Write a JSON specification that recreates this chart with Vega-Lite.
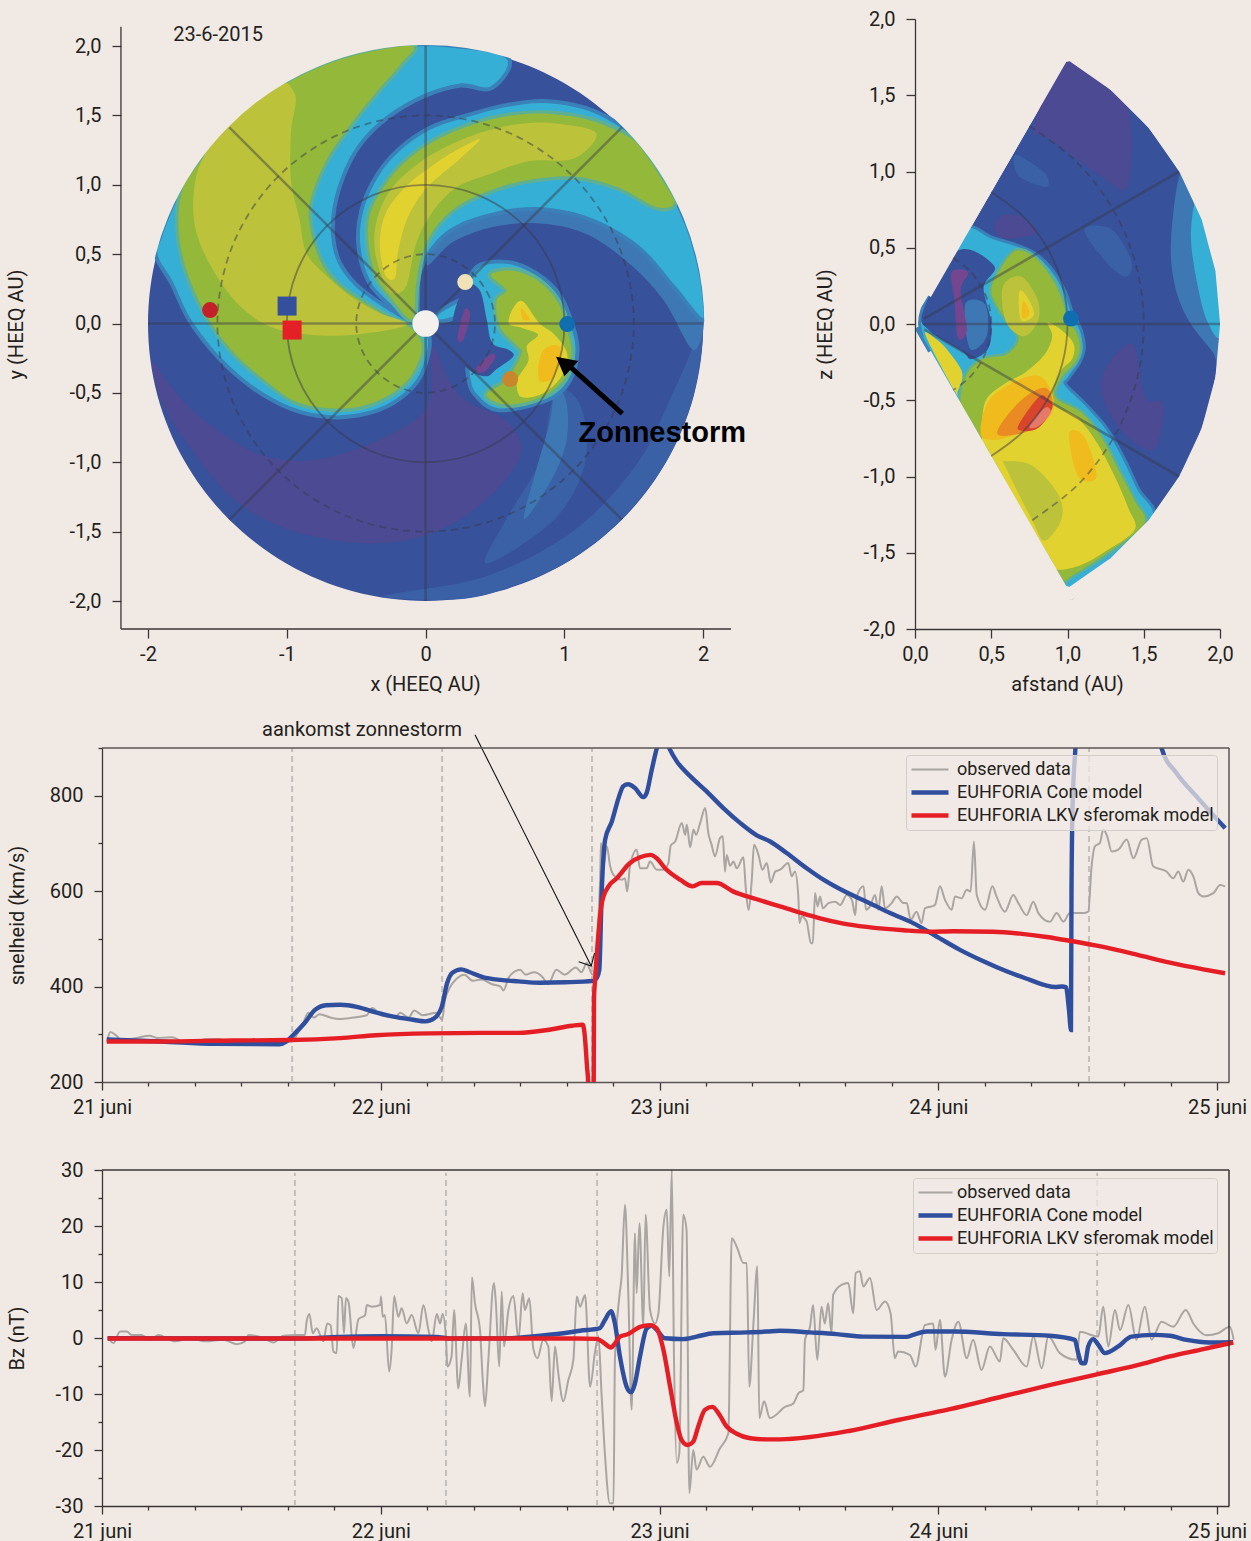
{"$schema":"https://vega.github.io/schema/vega-lite/v6.json","background":"#f1e9e4","padding":{"left":6,"top":5,"right":8,"bottom":2},
"config":{"view":{"stroke":null},"font":"Roboto","axis":{"grid":false,"labelFont":"Roboto","titleFont":"Roboto","labelFontSize":20,"titleFontSize":20,"titleFontWeight":"normal","labelColor":"#231f20","titleColor":"#231f20","domainColor":"#3a3636","tickColor":"#3a3636","domainWidth":1.3,"tickWidth":1.3,"labelOverlap":false,"labelFlush":false},"legend":{"labelFont":"Roboto","labelFontSize":18,"labelColor":"#231f20","labelLimit":400}},
"resolve":{"scale":{"color":"independent","strokeWidth":"independent"}},
"datasets":{
"ringsA":[{"r":0.5,"x":0.5,"y":0},{"r":0.5,"x":0.46,"y":0.19},{"r":0.5,"x":0.35,"y":0.35},{"r":0.5,"x":0.19,"y":0.46},{"r":0.5,"x":0,"y":0.5},{"r":0.5,"x":-0.19,"y":0.46},{"r":0.5,"x":-0.35,"y":0.35},{"r":0.5,"x":-0.46,"y":0.19},{"r":0.5,"x":-0.5,"y":0},{"r":0.5,"x":-0.46,"y":-0.19},{"r":0.5,"x":-0.35,"y":-0.35},{"r":0.5,"x":-0.19,"y":-0.46},{"r":0.5,"x":0,"y":-0.5},{"r":0.5,"x":0.19,"y":-0.46},{"r":0.5,"x":0.35,"y":-0.35},{"r":0.5,"x":0.46,"y":-0.19},
{"r":1,"x":1,"y":0},{"r":1,"x":0.924,"y":0.383},{"r":1,"x":0.707,"y":0.707},{"r":1,"x":0.383,"y":0.924},{"r":1,"x":0,"y":1},{"r":1,"x":-0.383,"y":0.924},{"r":1,"x":-0.707,"y":0.707},{"r":1,"x":-0.924,"y":0.383},{"r":1,"x":-1,"y":0},{"r":1,"x":-0.924,"y":-0.383},{"r":1,"x":-0.707,"y":-0.707},{"r":1,"x":-0.383,"y":-0.924},{"r":1,"x":0,"y":-1},{"r":1,"x":0.383,"y":-0.924},{"r":1,"x":0.707,"y":-0.707},{"r":1,"x":0.924,"y":-0.383},
{"r":1.5,"x":1.5,"y":0},{"r":1.5,"x":1.386,"y":0.574},{"r":1.5,"x":1.061,"y":1.061},{"r":1.5,"x":0.574,"y":1.386},{"r":1.5,"x":0,"y":1.5},{"r":1.5,"x":-0.574,"y":1.386},{"r":1.5,"x":-1.061,"y":1.061},{"r":1.5,"x":-1.386,"y":0.574},{"r":1.5,"x":-1.5,"y":0},{"r":1.5,"x":-1.386,"y":-0.574},{"r":1.5,"x":-1.061,"y":-1.061},{"r":1.5,"x":-0.574,"y":-1.386},{"r":1.5,"x":0,"y":-1.5},{"r":1.5,"x":0.574,"y":-1.386},{"r":1.5,"x":1.061,"y":-1.061},{"r":1.5,"x":1.386,"y":-0.574},
{"r":2.065,"x":2.065,"y":0},{"r":2.065,"x":1.908,"y":0.79},{"r":2.065,"x":1.46,"y":1.46},{"r":2.065,"x":0.79,"y":1.908},{"r":2.065,"x":0,"y":2.065},{"r":2.065,"x":-0.79,"y":1.908},{"r":2.065,"x":-1.46,"y":1.46},{"r":2.065,"x":-1.908,"y":0.79},{"r":2.065,"x":-2.065,"y":0},{"r":2.065,"x":-1.908,"y":-0.79},{"r":2.065,"x":-1.46,"y":-1.46},{"r":2.065,"x":-0.79,"y":-1.908},{"r":2.065,"x":0,"y":-2.065},{"r":2.065,"x":0.79,"y":-1.908},{"r":2.065,"x":1.46,"y":-1.46},{"r":2.065,"x":1.908,"y":-0.79}],
"a":[
{"p":1,"z":0,"x":2,"y":0},{"p":1,"z":0,"x":1.932,"y":0.518},{"p":1,"z":0,"x":1.732,"y":1},{"p":1,"z":0,"x":1.414,"y":1.414},{"p":1,"z":0,"x":1,"y":1.732},{"p":1,"z":0,"x":0.518,"y":1.932},{"p":1,"z":0,"x":0,"y":2},{"p":1,"z":0,"x":-0.518,"y":1.932},{"p":1,"z":0,"x":-1,"y":1.732},{"p":1,"z":0,"x":-1.414,"y":1.414},{"p":1,"z":0,"x":-1.732,"y":1},{"p":1,"z":0,"x":-1.932,"y":0.518},{"p":1,"z":0,"x":-2,"y":0},{"p":1,"z":0,"x":-1.932,"y":-0.518},{"p":1,"z":0,"x":-1.732,"y":-1},{"p":1,"z":0,"x":-1.414,"y":-1.414},{"p":1,"z":0,"x":-1,"y":-1.732},{"p":1,"z":0,"x":-0.518,"y":-1.932},{"p":1,"z":0,"x":0,"y":-2},{"p":1,"z":0,"x":0.518,"y":-1.932},{"p":1,"z":0,"x":1,"y":-1.732},{"p":1,"z":0,"x":1.414,"y":-1.414},{"p":1,"z":0,"x":1.732,"y":-1},{"p":1,"z":0,"x":1.932,"y":-0.518},
{"p":2,"z":1,"x":-1.97,"y":-0.27},{"p":2,"z":1,"x":-1.9,"y":-0.57},{"p":2,"z":1,"x":-1.7,"y":-0.89},{"p":2,"z":1,"x":-1.4,"y":-1.25},{"p":2,"z":1,"x":-1.05,"y":-1.46},{"p":2,"z":1,"x":-0.62,"y":-1.57},{"p":2,"z":1,"x":-0.18,"y":-1.57},{"p":2,"z":1,"x":0.2,"y":-1.44},{"p":2,"z":1,"x":0.52,"y":-1.19},{"p":2,"z":1,"x":0.69,"y":-0.92},{"p":2,"z":1,"x":0.58,"y":-0.7},{"p":2,"z":1,"x":0.31,"y":-0.57},{"p":2,"z":1,"x":0.17,"y":-0.41},{"p":2,"z":1,"x":0.04,"y":-0.16},{"p":2,"z":1,"x":0.01,"y":-0.6},{"p":2,"z":1,"x":-0.34,"y":-0.84},{"p":2,"z":1,"x":-0.78,"y":-0.98},{"p":2,"z":1,"x":-1.18,"y":-0.95},{"p":2,"z":1,"x":-1.59,"y":-0.7},{"p":2,"z":1,"x":-1.83,"y":-0.46},
{"p":3,"z":2,"x":1.8,"y":-0.46},{"p":3,"z":2,"x":1.53,"y":-1},{"p":3,"z":2,"x":1.07,"y":-1.49},{"p":3,"z":2,"x":0.44,"y":-1.82},{"p":3,"z":2,"x":-0.24,"y":-1.95},{"p":3,"z":2,"x":-0.24,"y":-1.98},{"p":3,"z":2,"x":0.2,"y":-1.99},{"p":3,"z":2,"x":0.52,"y":-1.93},{"p":3,"z":2,"x":1,"y":-1.73},{"p":3,"z":2,"x":1.41,"y":-1.41},{"p":3,"z":2,"x":1.73,"y":-1},{"p":3,"z":2,"x":1.93,"y":-0.52},{"p":3,"z":2,"x":1.99,"y":-0.05},
{"p":4,"z":2,"x":0.96,"y":-0.46},{"p":4,"z":2,"x":1.12,"y":-0.6},{"p":4,"z":2,"x":1.15,"y":-1},{"p":4,"z":2,"x":0.93,"y":-1.41},{"p":4,"z":2,"x":0.44,"y":-1.73},{"p":4,"z":2,"x":0.58,"y":-1.41},{"p":4,"z":2,"x":0.82,"y":-1},{"p":4,"z":2,"x":0.9,"y":-0.6},
{"p":5,"z":3,"x":0.96,"y":-0.46},{"p":5,"z":3,"x":1.02,"y":-0.6},{"p":5,"z":3,"x":1.01,"y":-0.87},{"p":5,"z":3,"x":0.9,"y":-1.14},{"p":5,"z":3,"x":0.71,"y":-1.41},{"p":5,"z":3,"x":0.79,"y":-1.08},{"p":5,"z":3,"x":0.89,"y":-0.73},{"p":5,"z":3,"x":0.92,"y":-0.54},
{"p":6,"z":3,"x":0.01,"y":0.42},{"p":6,"z":3,"x":0.2,"y":0.59},{"p":6,"z":3,"x":0.5,"y":0.7},{"p":6,"z":3,"x":0.85,"y":0.72},{"p":6,"z":3,"x":1.17,"y":0.64},{"p":6,"z":3,"x":1.47,"y":0.43},{"p":6,"z":3,"x":1.72,"y":0.16},{"p":6,"z":3,"x":1.93,"y":-0.19},{"p":6,"z":3,"x":2,"y":0.1},{"p":6,"z":3,"x":1.8,"y":0.5},{"p":6,"z":3,"x":1.2,"y":0.9},{"p":6,"z":3,"x":0.5,"y":0.9},{"p":6,"z":3,"x":0.1,"y":0.7},
{"p":10,"z":4,"x":0.01,"y":-0.09},{"p":10,"z":4,"x":0,"y":-0.24},{"p":10,"z":4,"x":-0.07,"y":-0.41},{"p":10,"z":4,"x":-0.24,"y":-0.56},{"p":10,"z":4,"x":-0.45,"y":-0.64},{"p":10,"z":4,"x":-0.7,"y":-0.66},{"p":10,"z":4,"x":-0.97,"y":-0.6},{"p":10,"z":4,"x":-1.24,"y":-0.45},{"p":10,"z":4,"x":-1.48,"y":-0.24},{"p":10,"z":4,"x":-1.69,"y":0.03},{"p":10,"z":4,"x":-1.82,"y":0.3},{"p":10,"z":4,"x":-1.93,"y":0.49},{"p":10,"z":4,"x":-1.9,"y":0.62},{"p":10,"z":4,"x":-1.8,"y":0.87},{"p":10,"z":4,"x":-1.62,"y":1.17},{"p":10,"z":4,"x":-1.41,"y":1.41},{"p":10,"z":4,"x":-1.17,"y":1.62},{"p":10,"z":4,"x":-0.87,"y":1.8},{"p":10,"z":4,"x":-0.52,"y":1.93},{"p":10,"z":4,"x":-0.17,"y":1.99},{"p":10,"z":4,"x":0.17,"y":1.99},{"p":10,"z":4,"x":0.58,"y":1.91},{"p":10,"z":4,"x":0.47,"y":1.71},{"p":10,"z":4,"x":0.25,"y":1.73},{"p":10,"z":4,"x":-0.02,"y":1.65},{"p":10,"z":4,"x":-0.29,"y":1.49},{"p":10,"z":4,"x":-0.48,"y":1.3},{"p":10,"z":4,"x":-0.6,"y":1.08},{"p":10,"z":4,"x":-0.67,"y":0.84},{"p":10,"z":4,"x":-0.68,"y":0.62},{"p":10,"z":4,"x":-0.63,"y":0.43},{"p":10,"z":4,"x":-0.51,"y":0.27},{"p":10,"z":4,"x":-0.34,"y":0.14},{"p":10,"z":4,"x":-0.18,"y":0.04},{"p":10,"z":4,"x":-0.09,"y":-0.01},
{"p":11,"z":4,"x":-0.09,"y":0.01},{"p":11,"z":4,"x":-0.26,"y":0.15},{"p":11,"z":4,"x":-0.4,"y":0.31},{"p":11,"z":4,"x":-0.47,"y":0.56},{"p":11,"z":4,"x":-0.45,"y":0.81},{"p":11,"z":4,"x":-0.34,"y":1.06},{"p":11,"z":4,"x":-0.18,"y":1.25},{"p":11,"z":4,"x":0.04,"y":1.4},{"p":11,"z":4,"x":0.31,"y":1.49},{"p":11,"z":4,"x":0.58,"y":1.56},{"p":11,"z":4,"x":0.85,"y":1.59},{"p":11,"z":4,"x":1.15,"y":1.54},{"p":11,"z":4,"x":1.41,"y":1.41},{"p":11,"z":4,"x":1.53,"y":1.29},{"p":11,"z":4,"x":1.64,"y":1.15},{"p":11,"z":4,"x":1.73,"y":1},{"p":11,"z":4,"x":1.88,"y":0.68},{"p":11,"z":4,"x":1.97,"y":0.35},{"p":11,"z":4,"x":2,"y":0.1},{"p":11,"z":4,"x":1.98,"y":0.05},{"p":11,"z":4,"x":1.8,"y":0.27},{"p":11,"z":4,"x":1.53,"y":0.57},{"p":11,"z":4,"x":1.17,"y":0.77},{"p":11,"z":4,"x":0.79,"y":0.84},{"p":11,"z":4,"x":0.44,"y":0.79},{"p":11,"z":4,"x":0.17,"y":0.68},{"p":11,"z":4,"x":0.01,"y":0.51},{"p":11,"z":4,"x":-0.06,"y":0.35},{"p":11,"z":4,"x":-0.07,"y":0.16},
{"p":12,"z":4,"x":0.36,"y":0.38},{"p":12,"z":4,"x":0.58,"y":0.43},{"p":12,"z":4,"x":0.79,"y":0.35},{"p":12,"z":4,"x":0.96,"y":0.19},{"p":12,"z":4,"x":1.05,"y":-0.03},{"p":12,"z":4,"x":1.08,"y":-0.19},{"p":12,"z":4,"x":1.04,"y":-0.38},{"p":12,"z":4,"x":0.93,"y":-0.51},{"p":12,"z":4,"x":0.74,"y":-0.58},{"p":12,"z":4,"x":0.52,"y":-0.61},{"p":12,"z":4,"x":0.39,"y":-0.53},{"p":12,"z":4,"x":0.32,"y":-0.38},{"p":12,"z":4,"x":0.3,"y":0.1},
{"p":13,"z":4,"x":0.1,"y":0.07},{"p":13,"z":4,"x":0.29,"y":0.17},{"p":13,"z":4,"x":0.29,"y":0.09},{"p":13,"z":4,"x":0.12,"y":0.03},
{"p":20,"z":6,"x":-0.11,"y":-0.03},{"p":20,"z":6,"x":-0.03,"y":-0.14},{"p":20,"z":6,"x":-0.05,"y":-0.27},{"p":20,"z":6,"x":-0.14,"y":-0.42},{"p":20,"z":6,"x":-0.29,"y":-0.53},{"p":20,"z":6,"x":-0.48,"y":-0.6},{"p":20,"z":6,"x":-0.7,"y":-0.61},{"p":20,"z":6,"x":-0.94,"y":-0.56},{"p":20,"z":6,"x":-1.18,"y":-0.39},{"p":20,"z":6,"x":-1.4,"y":-0.19},{"p":20,"z":6,"x":-1.59,"y":0.08},{"p":20,"z":6,"x":-1.73,"y":0.41},{"p":20,"z":6,"x":-1.78,"y":0.7},{"p":20,"z":6,"x":-1.75,"y":0.97},{"p":20,"z":6,"x":-1.62,"y":1.17},{"p":20,"z":6,"x":-1.41,"y":1.41},{"p":20,"z":6,"x":-1.17,"y":1.62},{"p":20,"z":6,"x":-0.87,"y":1.8},{"p":20,"z":6,"x":-0.52,"y":1.93},{"p":20,"z":6,"x":-0.1,"y":2},{"p":20,"z":6,"x":-0.18,"y":1.87},{"p":20,"z":6,"x":-0.37,"y":1.65},{"p":20,"z":6,"x":-0.56,"y":1.41},{"p":20,"z":6,"x":-0.72,"y":1.17},{"p":20,"z":6,"x":-0.83,"y":0.89},{"p":20,"z":6,"x":-0.83,"y":0.68},{"p":20,"z":6,"x":-0.75,"y":0.43},{"p":20,"z":6,"x":-0.62,"y":0.27},{"p":20,"z":6,"x":-0.43,"y":0.14},{"p":20,"z":6,"x":-0.24,"y":0.03},
{"p":21,"z":7,"x":-0.14,"y":-0.01},{"p":21,"z":7,"x":-0.51,"y":-0.08},{"p":21,"z":7,"x":-0.83,"y":-0.08},{"p":21,"z":7,"x":-1.1,"y":-0.03},{"p":21,"z":7,"x":-1.32,"y":0.11},{"p":21,"z":7,"x":-1.51,"y":0.35},{"p":21,"z":7,"x":-1.65,"y":0.65},{"p":21,"z":7,"x":-1.67,"y":0.95},{"p":21,"z":7,"x":-1.59,"y":1.22},{"p":21,"z":7,"x":-1.35,"y":1.52},{"p":21,"z":7,"x":-1.1,"y":1.76},{"p":21,"z":7,"x":-0.94,"y":1.65},{"p":21,"z":7,"x":-0.97,"y":1.38},{"p":21,"z":7,"x":-0.97,"y":1.03},{"p":21,"z":7,"x":-0.91,"y":0.76},{"p":21,"z":7,"x":-0.86,"y":0.51},{"p":21,"z":7,"x":-0.72,"y":0.35},{"p":21,"z":7,"x":-0.53,"y":0.19},{"p":21,"z":7,"x":-0.34,"y":0.08},
{"p":22,"z":6,"x":-0.1,"y":0.03},{"p":22,"z":6,"x":-0.26,"y":0.2},{"p":22,"z":6,"x":-0.36,"y":0.35},{"p":22,"z":6,"x":-0.41,"y":0.57},{"p":22,"z":6,"x":-0.4,"y":0.79},{"p":22,"z":6,"x":-0.29,"y":1},{"p":22,"z":6,"x":-0.13,"y":1.18},{"p":22,"z":6,"x":0.09,"y":1.33},{"p":22,"z":6,"x":0.36,"y":1.44},{"p":22,"z":6,"x":0.63,"y":1.5},{"p":22,"z":6,"x":0.9,"y":1.51},{"p":22,"z":6,"x":1.2,"y":1.46},{"p":22,"z":6,"x":1.47,"y":1.34},{"p":22,"z":6,"x":1.59,"y":1.21},{"p":22,"z":6,"x":1.7,"y":1.04},{"p":22,"z":6,"x":1.79,"y":0.87},{"p":22,"z":6,"x":1.66,"y":0.84},{"p":22,"z":6,"x":1.39,"y":0.98},{"p":22,"z":6,"x":1.07,"y":1.06},{"p":22,"z":6,"x":0.71,"y":1.03},{"p":22,"z":6,"x":0.44,"y":0.95},{"p":22,"z":6,"x":0.22,"y":0.84},{"p":22,"z":6,"x":0.06,"y":0.68},{"p":22,"z":6,"x":-0.03,"y":0.49},{"p":22,"z":6,"x":-0.07,"y":0.27},
{"p":23,"z":7,"x":-0.24,"y":0.22},{"p":23,"z":7,"x":-0.32,"y":0.35},{"p":23,"z":7,"x":-0.37,"y":0.57},{"p":23,"z":7,"x":-0.34,"y":0.79},{"p":23,"z":7,"x":-0.24,"y":0.98},{"p":23,"z":7,"x":-0.07,"y":1.14},{"p":23,"z":7,"x":0.14,"y":1.27},{"p":23,"z":7,"x":0.41,"y":1.38},{"p":23,"z":7,"x":0.69,"y":1.44},{"p":23,"z":7,"x":0.96,"y":1.44},{"p":23,"z":7,"x":1.23,"y":1.37},{"p":23,"z":7,"x":1.07,"y":1.19},{"p":23,"z":7,"x":0.74,"y":1.17},{"p":23,"z":7,"x":0.47,"y":1.08},{"p":23,"z":7,"x":0.22,"y":0.98},{"p":23,"z":7,"x":0.04,"y":0.79},{"p":23,"z":7,"x":-0.07,"y":0.57},{"p":23,"z":7,"x":-0.14,"y":0.27},
{"p":24,"z":8,"x":-0.29,"y":0.35},{"p":24,"z":8,"x":-0.33,"y":0.57},{"p":24,"z":8,"x":-0.29,"y":0.79},{"p":24,"z":8,"x":-0.15,"y":0.98},{"p":24,"z":8,"x":0.01,"y":1.11},{"p":24,"z":8,"x":0.17,"y":1.22},{"p":24,"z":8,"x":0.39,"y":1.33},{"p":24,"z":8,"x":0.25,"y":1.19},{"p":24,"z":8,"x":0.01,"y":0.98},{"p":24,"z":8,"x":-0.13,"y":0.76},{"p":24,"z":8,"x":-0.2,"y":0.51},{"p":24,"z":8,"x":-0.22,"y":0.33},
{"p":30,"z":6,"x":0.47,"y":0.35},{"p":30,"z":6,"x":0.63,"y":0.38},{"p":30,"z":6,"x":0.82,"y":0.3},{"p":30,"z":6,"x":0.96,"y":0.14},{"p":30,"z":6,"x":1.02,"y":-0.05},{"p":30,"z":6,"x":1.05,"y":-0.22},{"p":30,"z":6,"x":1.01,"y":-0.38},{"p":30,"z":6,"x":0.89,"y":-0.5},{"p":30,"z":6,"x":0.71,"y":-0.57},{"p":30,"z":6,"x":0.55,"y":-0.58},{"p":30,"z":6,"x":0.44,"y":-0.51},{"p":30,"z":6,"x":0.58,"y":-0.41},{"p":30,"z":6,"x":0.69,"y":-0.22},{"p":30,"z":6,"x":0.66,"y":-0.16},{"p":30,"z":6,"x":0.54,"y":-0.03},{"p":30,"z":6,"x":0.51,"y":0.16},{"p":30,"z":6,"x":0.58,"y":0.24},
{"p":31,"z":8,"x":0.63,"y":0.11},{"p":31,"z":8,"x":0.7,"y":0.16},{"p":31,"z":8,"x":0.82,"y":0},{"p":31,"z":8,"x":0.93,"y":-0.08},{"p":31,"z":8,"x":1.02,"y":-0.22},{"p":31,"z":8,"x":0.98,"y":-0.38},{"p":31,"z":8,"x":0.85,"y":-0.5},{"p":31,"z":8,"x":0.69,"y":-0.53},{"p":31,"z":8,"x":0.66,"y":-0.41},{"p":31,"z":8,"x":0.74,"y":-0.27},{"p":31,"z":8,"x":0.73,"y":-0.16},{"p":31,"z":8,"x":0.81,"y":-0.08},{"p":31,"z":8,"x":0.69,"y":-0.03},{"p":31,"z":8,"x":0.6,"y":0},
{"p":32,"z":9,"x":0.85,"y":-0.19},{"p":32,"z":9,"x":0.96,"y":-0.16},{"p":32,"z":9,"x":0.97,"y":-0.27},{"p":32,"z":9,"x":0.92,"y":-0.39},{"p":32,"z":9,"x":0.83,"y":-0.42},{"p":32,"z":9,"x":0.81,"y":-0.33},
{"p":33,"z":9,"x":0.69,"y":0.11},{"p":33,"z":9,"x":0.75,"y":0.03},{"p":33,"z":9,"x":0.7,"y":0.03},
{"p":40,"z":0,"x":0.29,"y":0.27},{"p":40,"z":0,"x":0.39,"y":0.24},{"p":40,"z":0,"x":0.44,"y":0.03},{"p":40,"z":0,"x":0.48,"y":-0.14},{"p":40,"z":0,"x":0.6,"y":-0.19},{"p":40,"z":0,"x":0.63,"y":-0.24},{"p":40,"z":0,"x":0.51,"y":-0.33},{"p":40,"z":0,"x":0.44,"y":-0.38},{"p":40,"z":0,"x":0.32,"y":-0.34},{"p":40,"z":0,"x":0.2,"y":-0.2},{"p":40,"z":0,"x":0.2,"y":0.05},
{"p":41,"z":13,"x":0.28,"y":0.1},{"p":41,"z":13,"x":0.32,"y":0.06},{"p":41,"z":13,"x":0.27,"y":-0.12},{"p":41,"z":13,"x":0.23,"y":-0.1},
{"p":42,"z":13,"x":0.36,"y":-0.33},{"p":42,"z":13,"x":0.47,"y":-0.22},{"p":42,"z":13,"x":0.5,"y":-0.25},{"p":42,"z":13,"x":0.42,"y":-0.35}],
"b":[
{"p":1,"z":0,"x":0.055,"y":0.09},{"p":1,"z":0,"x":0.1,"y":0.17},{"p":1,"z":0,"x":0.95,"y":1.645},{"p":1,"z":0,"x":1,"y":1.732},{"p":1,"z":0,"x":1.089,"y":1.677},{"p":1,"z":0,"x":1.286,"y":1.532},{"p":1,"z":0,"x":1.532,"y":1.286},{"p":1,"z":0,"x":1.732,"y":1},{"p":1,"z":0,"x":1.879,"y":0.684},{"p":1,"z":0,"x":1.97,"y":0.347},{"p":1,"z":0,"x":2,"y":0},{"p":1,"z":0,"x":1.97,"y":-0.347},{"p":1,"z":0,"x":1.879,"y":-0.684},{"p":1,"z":0,"x":1.732,"y":-1},{"p":1,"z":0,"x":1.532,"y":-1.286},{"p":1,"z":0,"x":1.286,"y":-1.532},{"p":1,"z":0,"x":1.089,"y":-1.677},{"p":1,"z":0,"x":1,"y":-1.732},{"p":1,"z":0,"x":0.95,"y":-1.645},{"p":1,"z":0,"x":0.1,"y":-0.17},{"p":1,"z":0,"x":0.055,"y":-0.09},{"p":1,"z":0,"x":0.04,"y":0},
{"p":2,"z":1,"x":1,"y":1.72},{"p":2,"z":1,"x":1.286,"y":1.53},{"p":2,"z":1,"x":1.4,"y":1.42},{"p":2,"z":1,"x":1.42,"y":1.11},{"p":2,"z":1,"x":1.38,"y":0.88},{"p":2,"z":1,"x":1.22,"y":0.97},{"p":2,"z":1,"x":0.9,"y":1.2},{"p":2,"z":1,"x":0.78,"y":1.3},
{"p":3,"z":1,"x":0.57,"y":0.71},{"p":3,"z":1,"x":0.7,"y":0.7},{"p":3,"z":1,"x":0.8,"y":0.6},{"p":3,"z":1,"x":0.6,"y":0.56},{"p":3,"z":1,"x":0.52,"y":0.62},
{"p":4,"z":1,"x":1.22,"y":-0.37},{"p":4,"z":1,"x":1.42,"y":-0.13},{"p":4,"z":1,"x":1.51,"y":-0.48},{"p":4,"z":1,"x":1.62,"y":-0.51},{"p":4,"z":1,"x":1.62,"y":-0.67},{"p":4,"z":1,"x":1.55,"y":-0.83},{"p":4,"z":1,"x":1.33,"y":-0.67},
{"p":5,"z":2,"x":0.66,"y":1.11},{"p":5,"z":2,"x":0.85,"y":0.99},{"p":5,"z":2,"x":0.86,"y":0.9},{"p":5,"z":2,"x":0.68,"y":0.97},
{"p":6,"z":2,"x":1.11,"y":0.62},{"p":6,"z":2,"x":1.29,"y":0.62},{"p":6,"z":2,"x":1.42,"y":0.41},{"p":6,"z":2,"x":1.38,"y":0.31},{"p":6,"z":2,"x":1.25,"y":0.41},
{"p":7,"z":3,"x":1.75,"y":1},{"p":7,"z":3,"x":1.68,"y":0.57},{"p":7,"z":3,"x":1.7,"y":0.27},{"p":7,"z":3,"x":1.79,"y":0.03},{"p":7,"z":3,"x":1.95,"y":-0.18},{"p":7,"z":3,"x":1.99,"y":-0.25},{"p":7,"z":3,"x":1.97,"y":0.35},{"p":7,"z":3,"x":1.88,"y":0.68},
{"p":8,"z":4,"x":1.84,"y":0.8},{"p":8,"z":4,"x":1.81,"y":0.55},{"p":8,"z":4,"x":1.86,"y":0.22},{"p":8,"z":4,"x":1.92,"y":0.01},{"p":8,"z":4,"x":2,"y":-0.08},{"p":8,"z":4,"x":1.98,"y":0.3},{"p":8,"z":4,"x":1.9,"y":0.62},
{"p":10,"z":4,"x":0.37,"y":0.63},{"p":10,"z":4,"x":0.5,"y":0.56},{"p":10,"z":4,"x":0.66,"y":0.51},{"p":10,"z":4,"x":0.79,"y":0.45},{"p":10,"z":4,"x":0.9,"y":0.34},{"p":10,"z":4,"x":0.98,"y":0.2},{"p":10,"z":4,"x":1.02,"y":0.08},{"p":10,"z":4,"x":1.08,"y":-0.04},{"p":10,"z":4,"x":1.1,"y":-0.16},{"p":10,"z":4,"x":1.07,"y":-0.25},{"p":10,"z":4,"x":1,"y":-0.35},{"p":10,"z":4,"x":0.98,"y":-0.4},{"p":10,"z":4,"x":1.11,"y":-0.53},{"p":10,"z":4,"x":1.25,"y":-0.69},{"p":10,"z":4,"x":1.36,"y":-0.88},{"p":10,"z":4,"x":1.46,"y":-1.09},{"p":10,"z":4,"x":1.56,"y":-1.25},{"p":10,"z":4,"x":1.4,"y":-1.43},{"p":10,"z":4,"x":1.2,"y":-1.6},{"p":10,"z":4,"x":1.09,"y":-1.677},{"p":10,"z":4,"x":1,"y":-1.732},{"p":10,"z":4,"x":0.95,"y":-1.645},{"p":10,"z":4,"x":0.1,"y":-0.17},{"p":10,"z":4,"x":0.06,"y":-0.09},{"p":10,"z":4,"x":0.04,"y":0},{"p":10,"z":4,"x":0.055,"y":0.09},{"p":10,"z":4,"x":0.1,"y":0.17},{"p":10,"z":4,"x":0.33,"y":0.57},
{"p":20,"z":6,"x":0.56,"y":0.36},{"p":20,"z":6,"x":0.66,"y":0.48},{"p":20,"z":6,"x":0.78,"y":0.44},{"p":20,"z":6,"x":0.89,"y":0.31},{"p":20,"z":6,"x":0.96,"y":0.17},{"p":20,"z":6,"x":1,"y":0.03},{"p":20,"z":6,"x":1.06,"y":-0.06},{"p":20,"z":6,"x":1.08,"y":-0.16},{"p":20,"z":6,"x":1.05,"y":-0.25},{"p":20,"z":6,"x":0.96,"y":-0.35},{"p":20,"z":6,"x":0.92,"y":-0.48},{"p":20,"z":6,"x":1.09,"y":-0.58},{"p":20,"z":6,"x":1.22,"y":-0.74},{"p":20,"z":6,"x":1.33,"y":-0.95},{"p":20,"z":6,"x":1.44,"y":-1.16},{"p":20,"z":6,"x":1.5,"y":-1.31},{"p":20,"z":6,"x":1.25,"y":-1.51},{"p":20,"z":6,"x":1.03,"y":-1.65},{"p":20,"z":6,"x":0.98,"y":-1.68},{"p":20,"z":6,"x":0.92,"y":-1.59},{"p":20,"z":6,"x":0.36,"y":-0.62},{"p":20,"z":6,"x":0.3,"y":-0.5},{"p":20,"z":6,"x":0.34,"y":-0.33},{"p":20,"z":6,"x":0.45,"y":-0.23},{"p":20,"z":6,"x":0.6,"y":-0.2},{"p":20,"z":6,"x":0.68,"y":-0.1},{"p":20,"z":6,"x":0.62,"y":0},{"p":20,"z":6,"x":0.55,"y":0.1},{"p":20,"z":6,"x":0.5,"y":0.22},
{"p":30,"z":0,"x":0.28,"y":0.48},{"p":30,"z":0,"x":0.52,"y":0.38},{"p":30,"z":0,"x":0.45,"y":0.24},{"p":30,"z":0,"x":0.5,"y":0.01},{"p":30,"z":0,"x":0.48,"y":-0.16},{"p":30,"z":0,"x":0.37,"y":-0.23},{"p":30,"z":0,"x":0.31,"y":-0.18},{"p":30,"z":0,"x":0.09,"y":-0.04},{"p":30,"z":0,"x":0.055,"y":0.09},
{"p":31,"z":3,"x":0.33,"y":0.13},{"p":31,"z":3,"x":0.46,"y":0.13},{"p":31,"z":3,"x":0.47,"y":-0.08},{"p":31,"z":3,"x":0.36,"y":-0.16},
{"p":32,"z":13,"x":0.24,"y":0.34},{"p":32,"z":13,"x":0.35,"y":0.34},{"p":32,"z":13,"x":0.3,"y":0.22},{"p":32,"z":13,"x":0.34,"y":-0.04},{"p":32,"z":13,"x":0.28,"y":-0.09},{"p":32,"z":13,"x":0.26,"y":0.15},
{"p":39,"z":8,"x":0.07,"y":-0.075},{"p":39,"z":8,"x":0.14,"y":-0.1},{"p":39,"z":8,"x":0.22,"y":-0.18},{"p":39,"z":8,"x":0.31,"y":-0.32},{"p":39,"z":8,"x":0.28,"y":-0.44},{"p":39,"z":8,"x":0.26,"y":-0.44},
{"p":40,"z":8,"x":0.46,"y":-0.51},{"p":40,"z":8,"x":0.59,"y":-0.39},{"p":40,"z":8,"x":0.72,"y":-0.32},{"p":40,"z":8,"x":0.85,"y":-0.2},{"p":40,"z":8,"x":0.9,"y":-0.08},{"p":40,"z":8,"x":0.87,"y":0.01},{"p":40,"z":8,"x":0.96,"y":-0.04},{"p":40,"z":8,"x":1.04,"y":-0.13},{"p":40,"z":8,"x":1.03,"y":-0.23},{"p":40,"z":8,"x":0.95,"y":-0.32},{"p":40,"z":8,"x":0.9,"y":-0.51},{"p":40,"z":8,"x":1.07,"y":-0.62},{"p":40,"z":8,"x":1.2,"y":-0.79},{"p":40,"z":8,"x":1.31,"y":-1},{"p":40,"z":8,"x":1.4,"y":-1.21},{"p":40,"z":8,"x":1.44,"y":-1.35},{"p":40,"z":8,"x":1.25,"y":-1.49},{"p":40,"z":8,"x":1.09,"y":-1.58},{"p":40,"z":8,"x":0.93,"y":-1.61},{"p":40,"z":8,"x":0.89,"y":-1.54},{"p":40,"z":8,"x":0.72,"y":-1.25},{"p":40,"z":8,"x":0.47,"y":-0.81},{"p":40,"z":8,"x":0.44,"y":-0.76},
{"p":41,"z":7,"x":0.59,"y":-0.9},{"p":41,"z":7,"x":0.77,"y":-0.93},{"p":41,"z":7,"x":0.94,"y":-1.12},{"p":41,"z":7,"x":0.96,"y":-1.28},{"p":41,"z":7,"x":0.85,"y":-1.42},{"p":41,"z":7,"x":0.77,"y":-1.29},{"p":41,"z":7,"x":0.59,"y":-0.93},
{"p":42,"z":7,"x":0.59,"y":0.27},{"p":42,"z":7,"x":0.7,"y":0.31},{"p":42,"z":7,"x":0.8,"y":0.17},{"p":42,"z":7,"x":0.81,"y":0.03},{"p":42,"z":7,"x":0.72,"y":-0.08},{"p":42,"z":7,"x":0.61,"y":-0.01},{"p":42,"z":7,"x":0.57,"y":0.15},
{"p":43,"z":8,"x":0.69,"y":0.22},{"p":43,"z":8,"x":0.74,"y":0.17},{"p":43,"z":8,"x":0.78,"y":0.06},{"p":43,"z":8,"x":0.7,"y":0.02},{"p":43,"z":8,"x":0.68,"y":0.13},
{"p":44,"z":9,"x":0.71,"y":0.15},{"p":44,"z":9,"x":0.75,"y":0.08},{"p":44,"z":9,"x":0.73,"y":0.04},{"p":44,"z":9,"x":0.7,"y":0.05},
{"p":45,"z":9,"x":1.01,"y":-0.72},{"p":45,"z":9,"x":1.11,"y":-0.74},{"p":45,"z":9,"x":1.19,"y":-1},{"p":45,"z":9,"x":1.07,"y":-1},
{"p":46,"z":9,"x":0.48,"y":-0.51},{"p":46,"z":9,"x":0.63,"y":-0.39},{"p":46,"z":9,"x":0.81,"y":-0.34},{"p":46,"z":9,"x":0.9,"y":-0.46},{"p":46,"z":9,"x":0.9,"y":-0.58},{"p":46,"z":9,"x":0.81,"y":-0.67},{"p":46,"z":9,"x":0.68,"y":-0.72},{"p":46,"z":9,"x":0.52,"y":-0.76},{"p":46,"z":9,"x":0.43,"y":-0.72},
{"p":47,"z":10,"x":0.59,"y":-0.62},{"p":47,"z":10,"x":0.72,"y":-0.48},{"p":47,"z":10,"x":0.86,"y":-0.42},{"p":47,"z":10,"x":0.9,"y":-0.55},{"p":47,"z":10,"x":0.79,"y":-0.68},{"p":47,"z":10,"x":0.63,"y":-0.73},{"p":47,"z":10,"x":0.54,"y":-0.72},
{"p":48,"z":11,"x":0.68,"y":-0.66},{"p":48,"z":11,"x":0.81,"y":-0.48},{"p":48,"z":11,"x":0.87,"y":-0.49},{"p":48,"z":11,"x":0.9,"y":-0.55},{"p":48,"z":11,"x":0.81,"y":-0.68},{"p":48,"z":11,"x":0.7,"y":-0.7},
{"p":49,"z":12,"x":0.75,"y":-0.67},{"p":49,"z":12,"x":0.85,"y":-0.55},{"p":49,"z":12,"x":0.89,"y":-0.58},{"p":49,"z":12,"x":0.81,"y":-0.67}],
"c":[
{"s":"o","d":21.02,"v":290},{"s":"o","d":21.03,"v":305},{"s":"o","d":21.05,"v":298},{"s":"o","d":21.07,"v":288},{"s":"o","d":21.1,"v":290},{"s":"o","d":21.13,"v":293},{"s":"o","d":21.17,"v":297},{"s":"o","d":21.2,"v":292},{"s":"o","d":21.25,"v":294},{"s":"o","d":21.3,"v":283},{"s":"o","d":21.33,"v":285},{"s":"o","d":21.38,"v":290},{"s":"o","d":21.42,"v":290},{"s":"o","d":21.46,"v":284},{"s":"o","d":21.5,"v":280},{"s":"o","d":21.6,"v":283},{"s":"o","d":21.68,"v":285},{"s":"o","d":21.7,"v":300},{"s":"o","d":21.72,"v":320},{"s":"o","d":21.74,"v":345},{"s":"o","d":21.76,"v":335},{"s":"o","d":21.78,"v":342},{"s":"o","d":21.82,"v":335},{"s":"o","d":21.85,"v":332},{"s":"o","d":21.9,"v":335},{"s":"o","d":21.95,"v":340},{"s":"o","d":21.97,"v":355},{"s":"o","d":22,"v":340},{"s":"o","d":22.05,"v":335},{"s":"o","d":22.07,"v":345},{"s":"o","d":22.1,"v":335},{"s":"o","d":22.12,"v":350},{"s":"o","d":22.15,"v":340},{"s":"o","d":22.2,"v":345},{"s":"o","d":22.22,"v":330},{"s":"o","d":22.23,"v":370},{"s":"o","d":22.25,"v":400},{"s":"o","d":22.27,"v":415},{"s":"o","d":22.3,"v":425},{"s":"o","d":22.33,"v":412},{"s":"o","d":22.36,"v":415},{"s":"o","d":22.4,"v":405},{"s":"o","d":22.43,"v":400},{"s":"o","d":22.44,"v":392},{"s":"o","d":22.46,"v":420},{"s":"o","d":22.5,"v":435},{"s":"o","d":22.52,"v":425},{"s":"o","d":22.55,"v":430},{"s":"o","d":22.58,"v":420},{"s":"o","d":22.6,"v":405},{"s":"o","d":22.63,"v":435},{"s":"o","d":22.66,"v":425},{"s":"o","d":22.7,"v":440},{"s":"o","d":22.72,"v":430},{"s":"o","d":22.74,"v":450},{"s":"o","d":22.75,"v":435},{"s":"o","d":22.76,"v":425},{"s":"o","d":22.787,"v":624},{"s":"o","d":22.79,"v":701},{"s":"o","d":22.799,"v":652},{"s":"o","d":22.811,"v":694},{"s":"o","d":22.823,"v":652},{"s":"o","d":22.835,"v":634},{"s":"o","d":22.865,"v":624},{"s":"o","d":22.876,"v":627},{"s":"o","d":22.884,"v":599},{"s":"o","d":22.894,"v":652},{"s":"o","d":22.918,"v":687},{"s":"o","d":22.93,"v":648},{"s":"o","d":22.954,"v":648},{"s":"o","d":22.966,"v":662},{"s":"o","d":22.99,"v":645},{"s":"o","d":23.014,"v":645},{"s":"o","d":23.032,"v":659},{"s":"o","d":23.04,"v":695},{"s":"o","d":23.056,"v":704},{"s":"o","d":23.08,"v":743},{"s":"o","d":23.092,"v":718},{"s":"o","d":23.098,"v":739},{"s":"o","d":23.11,"v":692},{"s":"o","d":23.122,"v":729},{"s":"o","d":23.131,"v":718},{"s":"o","d":23.146,"v":743},{"s":"o","d":23.164,"v":774},{"s":"o","d":23.175,"v":722},{"s":"o","d":23.187,"v":697},{"s":"o","d":23.199,"v":673},{"s":"o","d":23.217,"v":711},{"s":"o","d":23.227,"v":715},{"s":"o","d":23.235,"v":641},{"s":"o","d":23.241,"v":676},{"s":"o","d":23.253,"v":653},{"s":"o","d":23.265,"v":662},{"s":"o","d":23.277,"v":648},{"s":"o","d":23.301,"v":671},{"s":"o","d":23.309,"v":610},{"s":"o","d":23.319,"v":561},{"s":"o","d":23.331,"v":624},{"s":"o","d":23.339,"v":697},{"s":"o","d":23.355,"v":676},{"s":"o","d":23.369,"v":645},{"s":"o","d":23.385,"v":659},{"s":"o","d":23.399,"v":618},{"s":"o","d":23.415,"v":641},{"s":"o","d":23.433,"v":645},{"s":"o","d":23.462,"v":659},{"s":"o","d":23.474,"v":631},{"s":"o","d":23.486,"v":641},{"s":"o","d":23.498,"v":589},{"s":"o","d":23.502,"v":533},{"s":"o","d":23.51,"v":547},{"s":"o","d":23.528,"v":536},{"s":"o","d":23.543,"v":491},{"s":"o","d":23.55,"v":491},{"s":"o","d":23.558,"v":596},{"s":"o","d":23.567,"v":568},{"s":"o","d":23.576,"v":589},{"s":"o","d":23.586,"v":564},{"s":"o","d":23.606,"v":575},{"s":"o","d":23.63,"v":578},{"s":"o","d":23.648,"v":571},{"s":"o","d":23.672,"v":592},{"s":"o","d":23.69,"v":582},{"s":"o","d":23.702,"v":550},{"s":"o","d":23.708,"v":589},{"s":"o","d":23.732,"v":610},{"s":"o","d":23.741,"v":561},{"s":"o","d":23.755,"v":568},{"s":"o","d":23.773,"v":592},{"s":"o","d":23.785,"v":561},{"s":"o","d":23.797,"v":610},{"s":"o","d":23.809,"v":564},{"s":"o","d":23.833,"v":575},{"s":"o","d":23.851,"v":589},{"s":"o","d":23.875,"v":575},{"s":"o","d":23.887,"v":575},{"s":"o","d":23.901,"v":540},{"s":"o","d":23.922,"v":557},{"s":"o","d":23.94,"v":533},{"s":"o","d":23.952,"v":564},{"s":"o","d":23.976,"v":568},{"s":"o","d":23.988,"v":571},{"s":"o","d":24.006,"v":610},{"s":"o","d":24.024,"v":582},{"s":"o","d":24.048,"v":561},{"s":"o","d":24.06,"v":589},{"s":"o","d":24.084,"v":585},{"s":"o","d":24.102,"v":603},{"s":"o","d":24.116,"v":599},{"s":"o","d":24.128,"v":704},{"s":"o","d":24.138,"v":592},{"s":"o","d":24.168,"v":561},{"s":"o","d":24.194,"v":610},{"s":"o","d":24.209,"v":589},{"s":"o","d":24.239,"v":557},{"s":"o","d":24.269,"v":592},{"s":"o","d":24.287,"v":575},{"s":"o","d":24.317,"v":550},{"s":"o","d":24.341,"v":578},{"s":"o","d":24.359,"v":554},{"s":"o","d":24.401,"v":536},{"s":"o","d":24.425,"v":554},{"s":"o","d":24.449,"v":536},{"s":"o","d":24.472,"v":554},{"s":"o","d":24.52,"v":554},{"s":"o","d":24.538,"v":557},{"s":"o","d":24.55,"v":652},{"s":"o","d":24.562,"v":694},{"s":"o","d":24.58,"v":701},{"s":"o","d":24.592,"v":729},{"s":"o","d":24.606,"v":715},{"s":"o","d":24.622,"v":683},{"s":"o","d":24.646,"v":687},{"s":"o","d":24.676,"v":708},{"s":"o","d":24.7,"v":669},{"s":"o","d":24.73,"v":708},{"s":"o","d":24.748,"v":711},{"s":"o","d":24.771,"v":652},{"s":"o","d":24.819,"v":641},{"s":"o","d":24.843,"v":627},{"s":"o","d":24.861,"v":641},{"s":"o","d":24.879,"v":620},{"s":"o","d":24.897,"v":645},{"s":"o","d":24.915,"v":631},{"s":"o","d":24.933,"v":596},{"s":"o","d":24.951,"v":589},{"s":"o","d":24.987,"v":596},{"s":"o","d":25.011,"v":613},{"s":"o","d":25.029,"v":610},
{"s":"c","d":21.017,"v":289},{"s":"c","d":21.213,"v":285},{"s":"c","d":21.405,"v":280},{"s":"c","d":21.636,"v":279},{"s":"c","d":21.662,"v":285},{"s":"c","d":21.687,"v":299},{"s":"c","d":21.726,"v":323},{"s":"c","d":21.764,"v":351},{"s":"c","d":21.803,"v":361},{"s":"c","d":21.854,"v":362},{"s":"c","d":21.918,"v":357},{"s":"c","d":21.982,"v":346},{"s":"c","d":22.046,"v":337},{"s":"c","d":22.11,"v":331},{"s":"c","d":22.161,"v":327},{"s":"c","d":22.193,"v":334},{"s":"c","d":22.219,"v":358},{"s":"c","d":22.238,"v":407},{"s":"c","d":22.257,"v":429},{"s":"c","d":22.289,"v":436},{"s":"c","d":22.315,"v":431},{"s":"c","d":22.366,"v":420},{"s":"c","d":22.43,"v":414},{"s":"c","d":22.494,"v":411},{"s":"c","d":22.571,"v":408},{"s":"c","d":22.661,"v":409},{"s":"c","d":22.763,"v":412},{"s":"c","d":22.775,"v":418},{"s":"c","d":22.784,"v":435},{"s":"c","d":22.793,"v":603},{"s":"c","d":22.805,"v":708},{"s":"c","d":22.829,"v":746},{"s":"c","d":22.853,"v":795},{"s":"c","d":22.87,"v":820},{"s":"c","d":22.888,"v":824},{"s":"c","d":22.912,"v":816},{"s":"c","d":22.942,"v":797},{"s":"c","d":22.954,"v":806},{"s":"c","d":22.972,"v":854},{"s":"c","d":22.992,"v":903},{"s":"c","d":23.005,"v":925},{"s":"c","d":23.023,"v":917},{"s":"c","d":23.038,"v":896},{"s":"c","d":23.062,"v":872},{"s":"c","d":23.11,"v":841},{"s":"c","d":23.169,"v":809},{"s":"c","d":23.229,"v":774},{"s":"c","d":23.289,"v":743},{"s":"c","d":23.349,"v":717},{"s":"c","d":23.397,"v":704},{"s":"c","d":23.456,"v":680},{"s":"c","d":23.528,"v":648},{"s":"c","d":23.588,"v":624},{"s":"c","d":23.672,"v":597},{"s":"c","d":23.743,"v":578},{"s":"c","d":23.827,"v":554},{"s":"c","d":23.91,"v":533},{"s":"c","d":23.994,"v":505},{"s":"c","d":24.078,"v":477},{"s":"c","d":24.162,"v":453},{"s":"c","d":24.245,"v":432},{"s":"c","d":24.329,"v":414},{"s":"c","d":24.383,"v":403},{"s":"c","d":24.42,"v":399},{"s":"c","d":24.444,"v":400},{"s":"c","d":24.458,"v":399},{"s":"c","d":24.469,"v":351},{"s":"c","d":24.476,"v":309},{"s":"c","d":24.478,"v":600},{"s":"c","d":24.482,"v":780},{"s":"c","d":24.492,"v":900},{"s":"c","d":24.5,"v":1000},{"s":"c","d":24.65,"v":1150},{"s":"c","d":24.78,"v":950},{"s":"c","d":24.801,"v":900},{"s":"c","d":24.855,"v":847},{"s":"c","d":24.927,"v":798},{"s":"c","d":25.029,"v":732},
{"s":"l","d":21.017,"v":285},{"s":"l","d":21.213,"v":285},{"s":"l","d":21.47,"v":287},{"s":"l","d":21.675,"v":288},{"s":"l","d":21.854,"v":292},{"s":"l","d":21.982,"v":298},{"s":"l","d":22.174,"v":302},{"s":"l","d":22.366,"v":303},{"s":"l","d":22.494,"v":303},{"s":"l","d":22.597,"v":309},{"s":"l","d":22.687,"v":318},{"s":"l","d":22.725,"v":320},{"s":"l","d":22.731,"v":302},{"s":"l","d":22.74,"v":232},{"s":"l","d":22.744,"v":200},{"s":"l","d":22.746,"v":160},{"s":"l","d":22.762,"v":160},{"s":"l","d":22.764,"v":200},{"s":"l","d":22.765,"v":375},{"s":"l","d":22.769,"v":414},{"s":"l","d":22.781,"v":512},{"s":"l","d":22.793,"v":575},{"s":"l","d":22.817,"v":610},{"s":"l","d":22.847,"v":627},{"s":"l","d":22.894,"v":659},{"s":"l","d":22.93,"v":671},{"s":"l","d":22.968,"v":676},{"s":"l","d":22.99,"v":669},{"s":"l","d":23.02,"v":648},{"s":"l","d":23.074,"v":624},{"s":"l","d":23.119,"v":610},{"s":"l","d":23.151,"v":617},{"s":"l","d":23.205,"v":617},{"s":"l","d":23.265,"v":599},{"s":"l","d":23.349,"v":583},{"s":"l","d":23.432,"v":568},{"s":"l","d":23.504,"v":555},{"s":"l","d":23.576,"v":543},{"s":"l","d":23.66,"v":532},{"s":"l","d":23.743,"v":525},{"s":"l","d":23.875,"v":518},{"s":"l","d":23.97,"v":515},{"s":"l","d":24.054,"v":516},{"s":"l","d":24.197,"v":515},{"s":"l","d":24.293,"v":511},{"s":"l","d":24.389,"v":504},{"s":"l","d":24.472,"v":496},{"s":"l","d":24.592,"v":483},{"s":"l","d":24.712,"v":467},{"s":"l","d":24.831,"v":450},{"s":"l","d":24.951,"v":436},{"s":"l","d":25.029,"v":428}],
"e":[
{"s":"o","d":21.023,"v":-0.05},{"s":"o","d":21.041,"v":-0.9},{"s":"o","d":21.065,"v":1.15},{"s":"o","d":21.089,"v":1.15},{"s":"o","d":21.106,"v":0.55},{"s":"o","d":21.142,"v":0.55},{"s":"o","d":21.172,"v":-0.3},{"s":"o","d":21.202,"v":0.55},{"s":"o","d":21.262,"v":-0.6},{"s":"o","d":21.316,"v":-0.05},{"s":"o","d":21.37,"v":-0.6},{"s":"o","d":21.435,"v":-0.3},{"s":"o","d":21.483,"v":-1.1},{"s":"o","d":21.513,"v":-0.6},{"s":"o","d":21.525,"v":0.55},{"s":"o","d":21.579,"v":-0.05},{"s":"o","d":21.615,"v":-0.8},{"s":"o","d":21.651,"v":0.4},{"s":"o","d":21.698,"v":0.55},{"s":"o","d":21.728,"v":0.55},{"s":"o","d":21.734,"v":2.9},{"s":"o","d":21.744,"v":4.3},{"s":"o","d":21.756,"v":0.85},{"s":"o","d":21.77,"v":1.75},{"s":"o","d":21.794,"v":-0.6},{"s":"o","d":21.808,"v":2.6},{"s":"o","d":21.82,"v":2.3},{"s":"o","d":21.83,"v":-2.4},{"s":"o","d":21.842,"v":-2.7},{"s":"o","d":21.848,"v":7.5},{"s":"o","d":21.86,"v":7.1},{"s":"o","d":21.868,"v":0.85},{"s":"o","d":21.875,"v":7.1},{"s":"o","d":21.884,"v":6.5},{"s":"o","d":21.902,"v":-1.8},{"s":"o","d":21.92,"v":3.35},{"s":"o","d":21.944,"v":4.1},{"s":"o","d":21.95,"v":5.9},{"s":"o","d":21.968,"v":5.6},{"s":"o","d":21.998,"v":5.9},{"s":"o","d":22.001,"v":7.4},{"s":"o","d":22.007,"v":3.8},{"s":"o","d":22.015,"v":4.1},{"s":"o","d":22.03,"v":-6},{"s":"o","d":22.039,"v":-2.1},{"s":"o","d":22.048,"v":7.5},{"s":"o","d":22.063,"v":3.8},{"s":"o","d":22.075,"v":5.3},{"s":"o","d":22.093,"v":2.6},{"s":"o","d":22.111,"v":4.1},{"s":"o","d":22.135,"v":0.85},{"s":"o","d":22.153,"v":5.9},{"s":"o","d":22.171,"v":1.45},{"s":"o","d":22.183,"v":-0.6},{"s":"o","d":22.201,"v":4.3},{"s":"o","d":22.213,"v":2.6},{"s":"o","d":22.222,"v":4.3},{"s":"o","d":22.234,"v":-0.05},{"s":"o","d":22.239,"v":-5.1},{"s":"o","d":22.254,"v":-3.3},{"s":"o","d":22.263,"v":5},{"s":"o","d":22.278,"v":-9},{"s":"o","d":22.29,"v":-3.9},{"s":"o","d":22.305,"v":2.6},{"s":"o","d":22.32,"v":-10.5},{"s":"o","d":22.327,"v":10.85},{"s":"o","d":22.338,"v":6.2},{"s":"o","d":22.356,"v":1.45},{"s":"o","d":22.366,"v":-7.5},{"s":"o","d":22.374,"v":-12.2},{"s":"o","d":22.386,"v":-3.9},{"s":"o","d":22.406,"v":9.8},{"s":"o","d":22.413,"v":6.2},{"s":"o","d":22.425,"v":-5.1},{"s":"o","d":22.434,"v":8.3},{"s":"o","d":22.442,"v":-1.5},{"s":"o","d":22.458,"v":5},{"s":"o","d":22.476,"v":7.5},{"s":"o","d":22.494,"v":-0.3},{"s":"o","d":22.509,"v":8},{"s":"o","d":22.517,"v":5},{"s":"o","d":22.533,"v":7.1},{"s":"o","d":22.547,"v":-1.8},{"s":"o","d":22.562,"v":-3.6},{"s":"o","d":22.583,"v":-0.3},{"s":"o","d":22.601,"v":-1.5},{"s":"o","d":22.613,"v":-11.3},{"s":"o","d":22.625,"v":-1.5},{"s":"o","d":22.637,"v":-6.3},{"s":"o","d":22.655,"v":-11.3},{"s":"o","d":22.673,"v":-7.5},{"s":"o","d":22.691,"v":-3.9},{"s":"o","d":22.703,"v":7.4},{"s":"o","d":22.715,"v":5.6},{"s":"o","d":22.733,"v":7.7},{"s":"o","d":22.751,"v":-8.7},{"s":"o","d":22.769,"v":-2.4},{"s":"o","d":22.781,"v":0.3},{"s":"o","d":22.792,"v":-9.9},{"s":"o","d":22.804,"v":-20.6},{"s":"o","d":22.822,"v":-29.5},{"s":"o","d":22.835,"v":-29.5},{"s":"o","d":22.84,"v":-3.9},{"s":"o","d":22.856,"v":7.4},{"s":"o","d":22.864,"v":11},{"s":"o","d":22.876,"v":23.8},{"s":"o","d":22.888,"v":8},{"s":"o","d":22.9,"v":-12.8},{"s":"o","d":22.912,"v":18.7},{"s":"o","d":22.918,"v":8},{"s":"o","d":22.928,"v":20.5},{"s":"o","d":22.942,"v":2},{"s":"o","d":22.95,"v":22},{"s":"o","d":22.966,"v":5},{"s":"o","d":22.984,"v":2.6},{"s":"o","d":22.996,"v":4.4},{"s":"o","d":23.014,"v":19.9},{"s":"o","d":23.026,"v":22.9},{"s":"o","d":23.035,"v":11},{"s":"o","d":23.044,"v":30},{"s":"o","d":23.052,"v":-3.9},{"s":"o","d":23.062,"v":-22.3},{"s":"o","d":23.071,"v":-20.6},{"s":"o","d":23.085,"v":22},{"s":"o","d":23.097,"v":19.3},{"s":"o","d":23.107,"v":-27.7},{"s":"o","d":23.121,"v":-20},{"s":"o","d":23.133,"v":-23.5},{"s":"o","d":23.157,"v":-21.2},{"s":"o","d":23.181,"v":-23},{"s":"o","d":23.217,"v":-19.7},{"s":"o","d":23.247,"v":-17},{"s":"o","d":23.259,"v":17.8},{"s":"o","d":23.277,"v":16.3},{"s":"o","d":23.301,"v":13.4},{"s":"o","d":23.313,"v":13.4},{"s":"o","d":23.322,"v":-8.7},{"s":"o","d":23.337,"v":2.6},{"s":"o","d":23.351,"v":12.8},{"s":"o","d":23.358,"v":-14.3},{"s":"o","d":23.375,"v":-11.3},{"s":"o","d":23.396,"v":-14.3},{"s":"o","d":23.432,"v":-13.1},{"s":"o","d":23.444,"v":-12.5},{"s":"o","d":23.48,"v":-11.7},{"s":"o","d":23.498,"v":-9.9},{"s":"o","d":23.516,"v":-9.3},{"s":"o","d":23.522,"v":-0.3},{"s":"o","d":23.54,"v":2},{"s":"o","d":23.551,"v":5.9},{"s":"o","d":23.566,"v":-3.9},{"s":"o","d":23.581,"v":5.6},{"s":"o","d":23.593,"v":2.6},{"s":"o","d":23.605,"v":6.2},{"s":"o","d":23.617,"v":0.85},{"s":"o","d":23.623,"v":7.7},{"s":"o","d":23.653,"v":9.5},{"s":"o","d":23.677,"v":9.8},{"s":"o","d":23.695,"v":4.4},{"s":"o","d":23.704,"v":11.6},{"s":"o","d":23.719,"v":11.9},{"s":"o","d":23.731,"v":9.2},{"s":"o","d":23.755,"v":10.7},{"s":"o","d":23.779,"v":5},{"s":"o","d":23.809,"v":6.5},{"s":"o","d":23.829,"v":4.4},{"s":"o","d":23.844,"v":-3.6},{"s":"o","d":23.856,"v":-2.4},{"s":"o","d":23.898,"v":-3},{"s":"o","d":23.919,"v":-5.1},{"s":"o","d":23.952,"v":2.3},{"s":"o","d":23.982,"v":2.6},{"s":"o","d":23.99,"v":-2.1},{"s":"o","d":24.006,"v":3.2},{"s":"o","d":24.024,"v":-6.9},{"s":"o","d":24.048,"v":-0.3},{"s":"o","d":24.072,"v":2.9},{"s":"o","d":24.102,"v":-3.6},{"s":"o","d":24.125,"v":-0.3},{"s":"o","d":24.155,"v":-5.7},{"s":"o","d":24.185,"v":-1.5},{"s":"o","d":24.221,"v":-4.2},{"s":"o","d":24.233,"v":-0.05},{"s":"o","d":24.269,"v":-2.1},{"s":"o","d":24.317,"v":-5.1},{"s":"o","d":24.341,"v":0.25},{"s":"o","d":24.371,"v":-5.4},{"s":"o","d":24.395,"v":0.25},{"s":"o","d":24.436,"v":-2.7},{"s":"o","d":24.496,"v":-3.9},{"s":"o","d":24.508,"v":1.1},{"s":"o","d":24.574,"v":0.25},{"s":"o","d":24.592,"v":5.6},{"s":"o","d":24.61,"v":-1.5},{"s":"o","d":24.634,"v":5},{"s":"o","d":24.652,"v":1.4},{"s":"o","d":24.682,"v":5.9},{"s":"o","d":24.711,"v":-0.3},{"s":"o","d":24.741,"v":5.6},{"s":"o","d":24.765,"v":-0.3},{"s":"o","d":24.801,"v":2.9},{"s":"o","d":24.843,"v":2},{"s":"o","d":24.888,"v":5},{"s":"o","d":24.915,"v":2.6},{"s":"o","d":24.962,"v":0.5},{"s":"o","d":25.004,"v":0.85},{"s":"o","d":25.046,"v":2},{"s":"o","d":25.06,"v":-0.3},
{"s":"c","d":21.02,"v":-0.05},{"s":"c","d":21.7,"v":-0.1},{"s":"c","d":21.85,"v":0.2},{"s":"c","d":22,"v":0.3},{"s":"c","d":22.2,"v":0.2},{"s":"c","d":22.25,"v":-0.1},{"s":"c","d":22.45,"v":-0.05},{"s":"c","d":22.535,"v":0.25},{"s":"c","d":22.655,"v":0.85},{"s":"c","d":22.715,"v":1.3},{"s":"c","d":22.784,"v":1.7},{"s":"c","d":22.804,"v":3.2},{"s":"c","d":22.826,"v":4.8},{"s":"c","d":22.84,"v":2.6},{"s":"c","d":22.858,"v":-3.3},{"s":"c","d":22.882,"v":-8.7},{"s":"c","d":22.898,"v":-9.7},{"s":"c","d":22.912,"v":-8.1},{"s":"c","d":22.93,"v":-3.3},{"s":"c","d":22.954,"v":1.7},{"s":"c","d":22.972,"v":2.2},{"s":"c","d":22.99,"v":1.45},{"s":"c","d":23.02,"v":-0.05},{"s":"c","d":23.085,"v":-0.2},{"s":"c","d":23.133,"v":0.25},{"s":"c","d":23.193,"v":0.85},{"s":"c","d":23.313,"v":1},{"s":"c","d":23.384,"v":1.15},{"s":"c","d":23.432,"v":1.3},{"s":"c","d":23.539,"v":1},{"s":"c","d":23.635,"v":0.7},{"s":"c","d":23.731,"v":0.25},{"s":"c","d":23.886,"v":0.2},{"s":"c","d":23.91,"v":0.55},{"s":"c","d":23.958,"v":1.15},{"s":"c","d":24.054,"v":1.15},{"s":"c","d":24.233,"v":0.7},{"s":"c","d":24.4,"v":0.4},{"s":"c","d":24.49,"v":-0.35},{"s":"c","d":24.502,"v":-2.7},{"s":"c","d":24.514,"v":-4.5},{"s":"c","d":24.526,"v":-4.5},{"s":"c","d":24.538,"v":-1.5},{"s":"c","d":24.556,"v":-0.2},{"s":"c","d":24.574,"v":-1.2},{"s":"c","d":24.598,"v":-2.7},{"s":"c","d":24.646,"v":-1.5},{"s":"c","d":24.693,"v":0.25},{"s":"c","d":24.771,"v":0.55},{"s":"c","d":24.831,"v":0.4},{"s":"c","d":24.891,"v":-0.35},{"s":"c","d":24.974,"v":-0.8},{"s":"c","d":25.058,"v":-0.75},
{"s":"l","d":21.02,"v":-0.1},{"s":"l","d":22.7,"v":-0.1},{"s":"l","d":22.775,"v":-0.15},{"s":"l","d":22.804,"v":-1},{"s":"l","d":22.825,"v":-1.7},{"s":"l","d":22.84,"v":-1},{"s":"l","d":22.858,"v":0.25},{"s":"l","d":22.888,"v":0.7},{"s":"l","d":22.93,"v":2},{"s":"l","d":22.966,"v":2.3},{"s":"l","d":22.99,"v":1.7},{"s":"l","d":23.014,"v":-2.1},{"s":"l","d":23.038,"v":-8.7},{"s":"l","d":23.062,"v":-15.2},{"s":"l","d":23.079,"v":-18.2},{"s":"l","d":23.1,"v":-19.1},{"s":"l","d":23.121,"v":-18.5},{"s":"l","d":23.139,"v":-15.8},{"s":"l","d":23.163,"v":-12.8},{"s":"l","d":23.19,"v":-12.3},{"s":"l","d":23.211,"v":-13.4},{"s":"l","d":23.241,"v":-15.8},{"s":"l","d":23.277,"v":-17.1},{"s":"l","d":23.325,"v":-17.9},{"s":"l","d":23.384,"v":-18.1},{"s":"l","d":23.432,"v":-18.1},{"s":"l","d":23.68,"v":-16.6},{"s":"l","d":23.86,"v":-14.6},{"s":"l","d":24.042,"v":-12.7},{"s":"l","d":24.233,"v":-10.4},{"s":"l","d":24.41,"v":-8.3},{"s":"l","d":24.568,"v":-6.5},{"s":"l","d":24.711,"v":-4.9},{"s":"l","d":24.831,"v":-3.3},{"s":"l","d":24.951,"v":-2},{"s":"l","d":25.058,"v":-0.8}]
},
"spacing":729,"bounds":"flush",
"vconcat":[
{"hconcat":[
{"width":629,"height":610,"encoding":{"x":{"field":"x","type":"quantitative","scale":{"domain":[-2.3315,2.2],"nice":false,"zero":false},"axis":{"values":[-2,-1,0,1,2],"domain":false,"tickSize":9,"labelPadding":6,"title":"x (HEEQ AU)","titleX":323,"titleY":45,"labelExpr":"''+datum.value"}},"y":{"field":"y","type":"quantitative","scale":{"domain":[-2.2018,2.195],"nice":false,"zero":false},"axis":{"values":[-2,-1.5,-1,-0.5,0,0.5,1,1.5,2],"domain":false,"offset":-19,"tickSize":9,"labelPadding":11,"labelExpr":"replace(replace(format(datum.value,'.1f'),'.',','),'−','-')","title":"y (HEEQ AU)","titleX":-95,"titleY":305}}},
"layer":[
{"data":{"name":"a"},"transform":[{"filter":"datum.p<10"}],"mark":{"type":"line","filled":true,"interpolate":"cardinal-closed","strokeWidth":0},"encoding":{"order":{"value":null},"detail":{"field":"p"},"color":{"field":"z","type":"nominal","legend":null,"scale":{"domain":[0,1,2,3,4,6,7,8,9,10,11,12,13],"range":["#37519b","#4b4a93","#3a60a6","#3e78b4","#35afd6","#94b83a","#bcc23a","#e2d230","#f0bb1c","#e98a22","#d8452c","#e57a6c","#74468f"]}}}},
{"data":{"name":"a"},"transform":[{"filter":"datum.z==4&&datum.p>=10"}],"mark":{"type":"line","interpolate":"cardinal-closed","stroke":"#3a80b9","strokeWidth":8},"encoding":{"order":{"value":null},"detail":{"field":"p"}}},
{"data":{"name":"a"},"transform":[{"filter":"datum.z==4&&datum.p>=10"}],"mark":{"type":"line","filled":true,"interpolate":"cardinal-closed","strokeWidth":0},"encoding":{"order":{"value":null},"detail":{"field":"p"},"color":{"field":"z","type":"nominal","legend":null}}},
{"data":{"name":"a"},"transform":[{"filter":"datum.z==6&&datum.p>=10"}],"mark":{"type":"line","interpolate":"cardinal-closed","stroke":"#5fb092","strokeWidth":7},"encoding":{"order":{"value":null},"detail":{"field":"p"}}},
{"data":{"name":"a"},"transform":[{"filter":"datum.z!=4&&datum.p>=10"}],"mark":{"type":"line","filled":true,"interpolate":"cardinal-closed","strokeWidth":0},"encoding":{"order":{"value":null},"detail":{"field":"p"},"color":{"field":"z","type":"nominal","legend":null}}},
{"data":{"name":"ringsA"},"transform":[{"filter":"datum.r==2.065"}],"mark":{"type":"line","interpolate":"cardinal-closed","stroke":"#f1e9e4","strokeWidth":16},"encoding":{"order":{"value":null}}},
{"data":{"name":"ringsA"},"transform":[{"filter":"datum.r==1"}],"mark":{"type":"line","interpolate":"cardinal-closed","stroke":"#3a3a4a","strokeOpacity":0.5,"strokeWidth":1.8},"encoding":{"order":{"value":null}}},
{"data":{"name":"ringsA"},"transform":[{"filter":"datum.r==0.5||datum.r==1.5"}],"mark":{"type":"line","interpolate":"cardinal-closed","stroke":"#3a3a4a","strokeOpacity":0.5,"strokeWidth":1.8,"strokeDash":[7,5]},"encoding":{"order":{"value":null},"detail":{"field":"r"}}},
{"data":{"values":[{"x":-2,"y":0,"x2":2,"y2":0},{"x":0,"y":-2,"x2":0,"y2":2},{"x":-1.414,"y":-1.414,"x2":1.414,"y2":1.414},{"x":-1.414,"y":1.414,"x2":1.414,"y2":-1.414}]},"mark":{"type":"rule","stroke":"#3a3a4a","strokeOpacity":0.45,"strokeWidth":2.6},"encoding":{"x2":{"field":"x2"},"y2":{"field":"y2"}}},
{"data":{"values":[{"x":0,"y":0}]},"mark":{"type":"point","filled":true,"shape":"circle","size":707,"color":"#f4f0ed","opacity":1}},
{"data":{"values":[{"b":"Mars","x":-1.553,"y":0.097},{"b":"Venus","x":0.285,"y":0.299},{"b":"Mercurius","x":0.609,"y":-0.4},{"b":"Aarde","x":1.02,"y":-0.004}]},"mark":{"type":"point","filled":true,"shape":"circle","size":254,"opacity":1},"encoding":{"fill":{"field":"b","type":"nominal","legend":null,"scale":{"domain":["Mars","Venus","Mercurius","Aarde","STA","STB"],"range":["#c4202a","#f0e2b6","#c9862c","#0e6eb0","#34509c","#e41f26"]}}}},
{"data":{"values":[{"b":"STA","x":-0.998,"y":0.126},{"b":"STB","x":-0.962,"y":-0.047}]},"mark":{"type":"point","filled":true,"shape":"square","size":361,"opacity":1},"encoding":{"fill":{"field":"b","type":"nominal","legend":null}}},
{"data":{"values":[{"x":1.417,"y":-0.65},{"x":1.04,"y":-0.31}]},"mark":{"type":"line","stroke":"#000","strokeWidth":5},"encoding":{"order":{"value":null}}},
{"data":{"values":[{"x":0.94,"y":-0.24},{"x":1,"y":-0.38},{"x":1.1,"y":-0.27}]},"mark":{"type":"line","filled":true,"color":"#000","interpolate":"linear-closed"},"encoding":{"order":{"value":null}}},
{"data":{"values":[{"x":1.705,"y":-0.79,"t":"Zonnestorm"}]},"mark":{"type":"text","font":"Liberation Sans","fontWeight":"bold","fontSize":29,"color":"#000","align":"center","baseline":"middle"},"encoding":{"text":{"field":"t"}}},
{"data":{"values":[{"x":-1.495,"y":2.08,"t":"23-6-2015"}]},"mark":{"type":"text","fontSize":20,"color":"#231f20","align":"center","baseline":"middle"},"encoding":{"text":{"field":"t"}}},
{"data":{"values":[{"x":-2.195,"x2":2.2,"y":-2.2018}]},"mark":{"type":"rule","color":"#3a3636","strokeWidth":1.3},"encoding":{"x2":{"field":"x2"}}},
{"data":{"values":[{"x":-2.195,"y":-2.2018,"y2":2.14}]},"mark":{"type":"rule","color":"#3a3636","strokeWidth":1.3},"encoding":{"y2":{"field":"y2"}}}
]},
{"width":305,"height":610,"encoding":{"x":{"field":"x","type":"quantitative","scale":{"domain":[0,2],"nice":false,"zero":false},"axis":{"values":[0,0.5,1,1.5,2],"tickSize":9,"labelPadding":6,"zindex":1,"labelExpr":"replace(format(datum.value,'.1f'),'.',',')","title":"afstand (AU)","titleX":152,"titleY":45}},"y":{"field":"y","type":"quantitative","scale":{"domain":[-2,2],"nice":false,"zero":false},"axis":{"values":[-2,-1.5,-1,-0.5,0,0.5,1,1.5,2],"tickSize":9,"labelPadding":11,"zindex":1,"labelExpr":"replace(replace(format(datum.value,'.1f'),'.',','),'−','-')","title":"z (HEEQ AU)","titleX":-80,"titleY":305}}},
"layer":[
{"data":{"name":"b"},"transform":[{"filter":"datum.p<10"}],"mark":{"type":"line","filled":true,"interpolate":"cardinal-closed","strokeWidth":0},"encoding":{"order":{"value":null},"detail":{"field":"p"},"color":{"field":"z","type":"nominal","legend":null,"scale":{"domain":[0,1,2,3,4,6,7,8,9,10,11,12,13],"range":["#37519b","#4b4a93","#3a60a6","#3e78b4","#35afd6","#94b83a","#bcc23a","#e2d230","#f0bb1c","#e98a22","#d8452c","#e57a6c","#74468f"]}}}},
{"data":{"name":"b"},"transform":[{"filter":"datum.z==4&&datum.p>=10"}],"mark":{"type":"line","interpolate":"cardinal-closed","stroke":"#3a80b9","strokeWidth":6},"encoding":{"order":{"value":null},"detail":{"field":"p"}}},
{"data":{"name":"b"},"transform":[{"filter":"datum.z==4&&datum.p>=10"}],"mark":{"type":"line","filled":true,"interpolate":"cardinal-closed","strokeWidth":0},"encoding":{"order":{"value":null},"detail":{"field":"p"},"color":{"field":"z","type":"nominal","legend":null}}},
{"data":{"name":"b"},"transform":[{"filter":"datum.z==6&&datum.p>=10"}],"mark":{"type":"line","interpolate":"cardinal-closed","stroke":"#5fb092","strokeWidth":5},"encoding":{"order":{"value":null},"detail":{"field":"p"}}},
{"data":{"name":"b"},"transform":[{"filter":"datum.z!=4&&datum.p>=10"}],"mark":{"type":"line","filled":true,"interpolate":"cardinal-closed","strokeWidth":0},"encoding":{"order":{"value":null},"detail":{"field":"p"},"color":{"field":"z","type":"nominal","legend":null}}},
{"data":{"values":[{"x":0.07,"y":0.197},{"x":0.965,"y":1.75},{"x":1.02,"y":1.767},{"x":1.311,"y":1.563},{"x":1.563,"y":1.311},{"x":1.767,"y":1.02},{"x":1.917,"y":0.698},{"x":2.009,"y":0.354},{"x":2.04,"y":0},{"x":2.009,"y":-0.354},{"x":1.917,"y":-0.698},{"x":1.767,"y":-1.02},{"x":1.563,"y":-1.311},{"x":1.311,"y":-1.563},{"x":1.02,"y":-1.767},{"x":0.965,"y":-1.75},{"x":0.07,"y":-0.197}]},"mark":{"type":"line","stroke":"#f1e9e4","strokeWidth":12},"encoding":{"order":{"value":null}}},
{"data":{"values":[{"r":0.5,"x":0.25,"y":0.433},{"r":0.5,"x":0.354,"y":0.354},{"r":0.5,"x":0.433,"y":0.25},{"r":0.5,"x":0.483,"y":0.129},{"r":0.5,"x":0.5,"y":0},{"r":0.5,"x":0.483,"y":-0.129},{"r":0.5,"x":0.433,"y":-0.25},{"r":0.5,"x":0.354,"y":-0.354},{"r":0.5,"x":0.25,"y":-0.433},{"r":1.5,"x":0.75,"y":1.299},{"r":1.5,"x":1.061,"y":1.061},{"r":1.5,"x":1.299,"y":0.75},{"r":1.5,"x":1.449,"y":0.388},{"r":1.5,"x":1.5,"y":0},{"r":1.5,"x":1.449,"y":-0.388},{"r":1.5,"x":1.299,"y":-0.75},{"r":1.5,"x":1.061,"y":-1.061},{"r":1.5,"x":0.75,"y":-1.299}]},"mark":{"type":"line","interpolate":"cardinal","stroke":"#3a3a4a","strokeOpacity":0.5,"strokeWidth":1.8,"strokeDash":[7,5]},"encoding":{"order":{"value":null},"detail":{"field":"r"}}},
{"data":{"values":[{"x":0.5,"y":0.866},{"x":0.707,"y":0.707},{"x":0.866,"y":0.5},{"x":0.966,"y":0.259},{"x":1,"y":0},{"x":0.966,"y":-0.259},{"x":0.866,"y":-0.5},{"x":0.707,"y":-0.707},{"x":0.5,"y":-0.866}]},"mark":{"type":"line","interpolate":"cardinal","stroke":"#3a3a4a","strokeOpacity":0.5,"strokeWidth":1.8},"encoding":{"order":{"value":null}}},
{"data":{"values":[{"x":0.05,"y":0,"x2":2,"y2":0},{"x":0.06,"y":0.035,"x2":1.732,"y2":1},{"x":0.06,"y":-0.035,"x2":1.732,"y2":-1}]},"mark":{"type":"rule","stroke":"#3a3a4a","strokeOpacity":0.45,"strokeWidth":2.6},"encoding":{"x2":{"field":"x2"},"y2":{"field":"y2"}}},
{"data":{"values":[{"x":1.023,"y":0.036}]},"mark":{"type":"point","filled":true,"shape":"circle","size":254,"color":"#0e6eb0","opacity":1}}
]}
],"spacing":184,"bounds":"flush"},
{"vconcat":[
{"width":1127,"height":334,"encoding":{"x":{"field":"d","type":"quantitative","scale":{"domain":[21,25.043],"nice":false,"zero":false},"axis":{"values":[21,21.1667,21.3333,21.5,21.6667,21.8333,22,22.1667,22.3333,22.5,22.6667,22.8333,23,23.1667,23.3333,23.5,23.6667,23.8333,24,24.1667,24.3333,24.5,24.6667,24.8333,25],"title":null,"tickSize":{"expr":"datum.value%1==0?8:4"},"labelPadding":7,"domainColor":"#5a5555","labelExpr":"datum.value%1==0?datum.value+' juni':''"}},"y":{"field":"v","type":"quantitative","scale":{"domain":[200,900],"nice":false,"zero":false},"axis":{"values":[200,300,400,500,600,700,800,900],"tickSize":{"expr":"datum.value%200==0?8:4"},"labelPadding":11,"labelExpr":"datum.value%200==0?datum.value:''","title":"snelheid (km/s)","titleX":-75,"titleY":167}}},
"layer":[
{"data":{"values":[{"d":21.682,"v":200,"v2":900},{"d":22.22,"v":200,"v2":900},{"d":22.758,"v":200,"v2":900},{"d":24.541,"v":200,"v2":900}]},"mark":{"type":"rule","stroke":"#c4bfbc","strokeWidth":2,"strokeDash":[6,4]},"encoding":{"y2":{"field":"v2"}}},
{"data":{"name":"c"},"mark":{"type":"line","interpolate":"monotone","clip":true},"encoding":{"order":{"value":null},"color":{"field":"s","type":"nominal","scale":{"domain":["o","c","l"],"range":["#aaa5a1","#2f4f9e","#e51e26"]},"legend":{"orient":"none","legendX":804,"legendY":7,"title":null,"symbolType":"stroke","symbolSize":1369,"clipHeight":23,"fillColor":"rgba(241,233,228,0.72)","strokeColor":"#d3cdc9","cornerRadius":3,"padding":3,"rowPadding":0,"labelOffset":6,"labelExpr":"{'o':'observed data','c':'EUHFORIA Cone model','l':'EUHFORIA LKV sferomak model'}[datum.label]"}},"strokeWidth":{"field":"s","type":"nominal","scale":{"type":"ordinal","domain":["o","c","l"],"range":[2,4.4,4.4]},"legend":{"orient":"none","legendX":804,"legendY":7,"title":null,"symbolType":"stroke","symbolSize":1369,"clipHeight":23,"fillColor":"rgba(241,233,228,0.72)","strokeColor":"#d3cdc9","cornerRadius":3,"padding":3,"rowPadding":0,"labelOffset":6,"labelExpr":"{'o':'observed data','c':'EUHFORIA Cone model','l':'EUHFORIA LKV sferomak model'}[datum.label]"}}}},
{"data":{"values":[{"k":"a","d":22.338,"v":928},{"k":"a","d":22.755,"v":443},{"k":"b","d":22.71,"v":452},{"k":"b","d":22.755,"v":443},{"k":"b","d":22.767,"v":470}]},"mark":{"type":"line","stroke":"#111","strokeWidth":1.1},"encoding":{"order":{"value":null},"detail":{"field":"k"}}},
{"data":{"values":[{"d":21.933,"v":937,"t":"aankomst zonnestorm"}]},"mark":{"type":"text","fontSize":20,"color":"#231f20","align":"center","baseline":"middle"},"encoding":{"text":{"field":"t"}}},
{"data":{"values":[{"d":21,"d2":25.043,"v":900}]},"mark":{"type":"rule","color":"#5a5555","strokeWidth":1.5},"encoding":{"x2":{"field":"d2"}}},
{"data":{"values":[{"d":25.043,"v":200,"v2":900}]},"mark":{"type":"rule","color":"#5a5555","strokeWidth":1.5},"encoding":{"y2":{"field":"v2"}}}
]},
{"width":1127,"height":336,"encoding":{"x":{"field":"d","type":"quantitative","scale":{"domain":[21,25.043],"nice":false,"zero":false},"axis":{"values":[21,21.1667,21.3333,21.5,21.6667,21.8333,22,22.1667,22.3333,22.5,22.6667,22.8333,23,23.1667,23.3333,23.5,23.6667,23.8333,24,24.1667,24.3333,24.5,24.6667,24.8333,25],"title":null,"tickSize":{"expr":"datum.value%1==0?8:4"},"labelPadding":7,"labelExpr":"datum.value%1==0?datum.value+' juni':''"}},"y":{"field":"v","type":"quantitative","scale":{"domain":[-30,30],"nice":false,"zero":false},"axis":{"values":[-30,-25,-20,-15,-10,-5,0,5,10,15,20,25,30],"tickSize":{"expr":"datum.value%10==0?8:4"},"labelPadding":11,"labelExpr":"datum.value%10==0?replace(''+datum.value,'−','-'):''","title":"Bz (nT)","titleX":-75,"titleY":168}}},
"layer":[
{"data":{"values":[{"d":21.692,"v":-30,"v2":29.5},{"d":22.234,"v":-30,"v2":29.5},{"d":22.776,"v":-30,"v2":29.5},{"d":24.57,"v":-30,"v2":29.5}]},"mark":{"type":"rule","stroke":"#c4bfbc","strokeWidth":2,"strokeDash":[6,4]},"encoding":{"y2":{"field":"v2"}}},
{"data":{"name":"e"},"mark":{"type":"line","interpolate":"monotone"},"encoding":{"order":{"value":null},"color":{"field":"s","type":"nominal","scale":{"domain":["o","c","l"],"range":["#aaa5a1","#2f4f9e","#e51e26"]},"legend":{"orient":"none","legendX":811,"legendY":8,"title":null,"symbolType":"stroke","symbolSize":1156,"clipHeight":23,"fillColor":"rgba(241,233,228,0.72)","strokeColor":"#d3cdc9","cornerRadius":3,"padding":3,"rowPadding":0,"labelOffset":2,"labelExpr":"{'o':'observed data','c':'EUHFORIA Cone model','l':'EUHFORIA LKV sferomak model'}[datum.label]"}},"strokeWidth":{"field":"s","type":"nominal","scale":{"type":"ordinal","domain":["o","c","l"],"range":[2,4.4,4.4]},"legend":{"orient":"none","legendX":811,"legendY":8,"title":null,"symbolType":"stroke","symbolSize":1156,"clipHeight":23,"fillColor":"rgba(241,233,228,0.72)","strokeColor":"#d3cdc9","cornerRadius":3,"padding":3,"rowPadding":0,"labelOffset":2,"labelExpr":"{'o':'observed data','c':'EUHFORIA Cone model','l':'EUHFORIA LKV sferomak model'}[datum.label]"}}}},
{"data":{"values":[{"d":21,"d2":25.043,"v":30}]},"mark":{"type":"rule","color":"#3a3636","strokeWidth":1.3},"encoding":{"x2":{"field":"d2"}}},
{"data":{"values":[{"d":25.043,"v":-30,"v2":30}]},"mark":{"type":"rule","color":"#3a3636","strokeWidth":1.5},"encoding":{"y2":{"field":"v2"}}}
]}
],"spacing":88,"bounds":"flush","resolve":{"scale":{"color":"independent","strokeWidth":"independent"}}}
]}
